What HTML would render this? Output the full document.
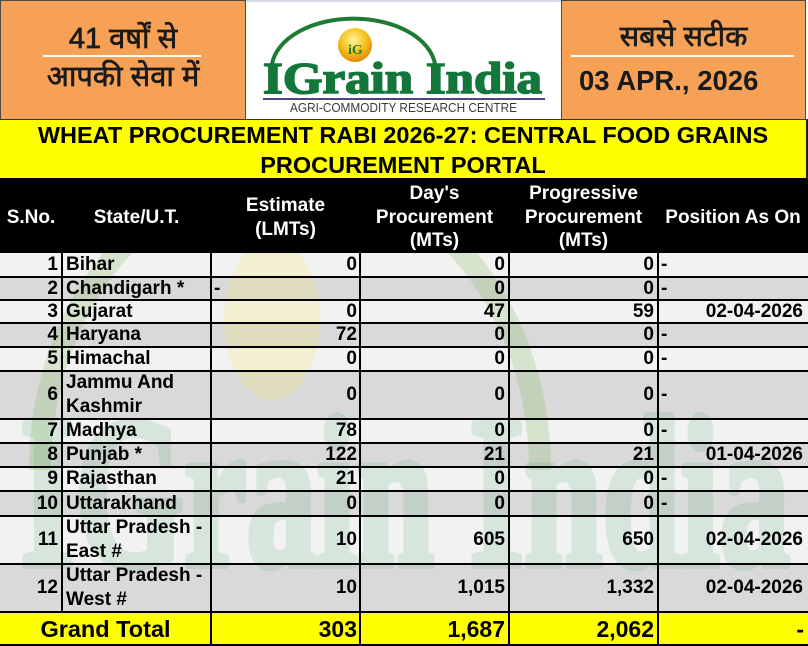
<!DOCTYPE html>
<html><head><meta charset="utf-8">
<style>
html,body{margin:0;padding:0;}
body{width:808px;height:646px;position:relative;overflow:hidden;background:#fff;font-family:"Liberation Sans",Arial,sans-serif;}
.a{position:absolute;}
.box{position:absolute;box-sizing:border-box;}
.hin{font-family:"Liberation Sans","Noto Sans Devanagari","Lohit Devanagari","FreeSans","Mangal",sans-serif;color:#1a1a1a;text-align:center;position:absolute;white-space:nowrap;-webkit-text-stroke:0.7px #1a1a1a;}
.c{position:absolute;display:flex;align-items:center;font-weight:bold;font-size:19px;line-height:24px;color:#000;white-space:nowrap;box-sizing:border-box;z-index:5;}
.R{justify-content:flex-end;text-align:right;}
.L{justify-content:flex-start;text-align:left;}
.C{justify-content:center;text-align:center;}
.h{color:#fff;line-height:23.5px;}
.hl{position:absolute;left:0;width:808px;height:2px;background:#000;z-index:4;}
.vl{position:absolute;width:2px;background:#000;z-index:4;}
.row{position:absolute;left:0;width:808px;}
</style></head><body>

<!-- top left orange box -->
<div class="box" style="left:0;top:0;width:246px;height:120px;background:#F6A156;border:1px solid #4a4a4a;"></div>
<div class="hin" style="left:0;width:246px;top:22px;font-size:29px;line-height:34px;">41 वर्षों से</div>
<div class="a" style="left:43px;top:55px;width:158px;height:2px;background:#fff;"></div>
<div class="hin" style="left:0;width:246px;top:60px;font-size:29px;line-height:34px;">आपकी सेवा में</div>

<!-- logo box -->
<div class="box" style="left:246px;top:0;width:315px;height:120px;background:#fff;border-top:2px solid #d4dbe3;"></div>
<svg class="a" style="left:0;top:0;" width="808" height="120" viewBox="0 0 808 120">
  <defs>
    <radialGradient id="ball" cx="45%" cy="35%" r="65%">
      <stop offset="0%" stop-color="#fff3a0"/>
      <stop offset="55%" stop-color="#f7c51c"/>
      <stop offset="100%" stop-color="#e08a0c"/>
    </radialGradient>
  </defs>
  <path d="M272,64 A82,51 0 0 1 435,64" fill="none" stroke="#1f7a34" stroke-width="4"/>
  <circle cx="355" cy="45" r="17" fill="url(#ball)"/>
  <text x="348" y="54" font-family="Liberation Serif,serif" font-weight="bold" font-size="14" fill="#1f7a34">iG</text>
  <text x="263" y="93" font-family="Liberation Serif,serif" font-weight="bold" font-size="44" fill="#13773a" stroke="#13773a" stroke-width="1.6" textLength="279" lengthAdjust="spacingAndGlyphs">IGrain India</text>
  <rect x="263" y="98" width="282" height="2" fill="#55408c"/>
  <text x="290" y="112" font-family="Liberation Sans,Arial,sans-serif" font-size="12.5" fill="#3a3a3a" textLength="227" lengthAdjust="spacingAndGlyphs">AGRI-COMMODITY RESEARCH CENTRE</text>
</svg>

<!-- top right orange box -->
<div class="box" style="left:561px;top:0;width:245px;height:120px;background:#F6A156;border:1px solid #4a4a4a;"></div>
<div class="hin" style="left:561px;width:245px;top:20px;font-size:29px;line-height:34px;">सबसे सटीक</div>
<div class="a" style="left:571px;top:55px;width:223px;height:2px;background:#fff;"></div>
<div class="a" style="left:579px;top:64px;font-weight:bold;font-size:27.5px;line-height:34px;color:#1a1a1a;white-space:nowrap;">03 APR., 2026</div>

<!-- yellow title band -->
<div class="box" style="left:0;top:119px;width:808px;height:60px;background:#FFFF00;border-top:1px solid #333;border-right:2px solid #222;"></div>
<div class="a" style="left:0;top:120px;width:806px;text-align:center;font-weight:bold;font-size:23.5px;line-height:30px;color:#000;">WHEAT PROCUREMENT RABI 2026-27: CENTRAL FOOD GRAINS<br>PROCUREMENT PORTAL</div>

<!-- header black -->
<div class="a" style="left:0;top:178px;width:808px;height:75px;background:#000;"></div>

<!-- row backgrounds -->
<div class="row" style="top:253px;height:24px;background:#F2F2F2;"></div>
<div class="row" style="top:277px;height:23px;background:#D9D9D9;"></div>
<div class="row" style="top:300px;height:23px;background:#F2F2F2;"></div>
<div class="row" style="top:323px;height:24px;background:#D9D9D9;"></div>
<div class="row" style="top:347px;height:24px;background:#F2F2F2;"></div>
<div class="row" style="top:371px;height:48px;background:#D9D9D9;"></div>
<div class="row" style="top:419px;height:24px;background:#F2F2F2;"></div>
<div class="row" style="top:443px;height:24px;background:#D9D9D9;"></div>
<div class="row" style="top:467px;height:24px;background:#F2F2F2;"></div>
<div class="row" style="top:491px;height:25px;background:#D9D9D9;"></div>
<div class="row" style="top:516px;height:48px;background:#F2F2F2;"></div>
<div class="row" style="top:564px;height:48px;background:#D9D9D9;"></div>
<div class="row" style="top:612px;height:34px;background:#FFFF00;"></div>

<!-- watermark -->
<svg class="a" style="left:0;top:253px;z-index:3;" width="808" height="359" viewBox="0 253 808 359">
  <path d="M40,470 A250,300 0 0 1 540,470" fill="none" stroke="#7fb65a" stroke-opacity="0.24" stroke-width="22"/>
  <ellipse cx="272" cy="320" rx="48" ry="80" fill="#f5e24a" fill-opacity="0.18"/>
  <g opacity="0.13">
    <text x="20" y="565" font-family="Liberation Serif,serif" font-weight="bold" font-size="215" fill="#2e9a55" stroke="#2e9a55" stroke-width="8" stroke-linejoin="round" textLength="770" lengthAdjust="spacingAndGlyphs">IGrain India</text>
  </g>
</svg>

<!-- grid lines -->
<div class="hl" style="top:276px;"></div>
<div class="hl" style="top:299px;"></div>
<div class="hl" style="top:322px;"></div>
<div class="hl" style="top:346px;"></div>
<div class="hl" style="top:370px;"></div>
<div class="hl" style="top:418px;"></div>
<div class="hl" style="top:442px;"></div>
<div class="hl" style="top:466px;"></div>
<div class="hl" style="top:490px;"></div>
<div class="hl" style="top:515px;"></div>
<div class="hl" style="top:563px;"></div>
<div class="hl" style="top:611px;"></div>
<div class="hl" style="top:644px;"></div>
<div class="vl" style="left:61px;top:253px;height:359px;"></div>
<div class="vl" style="left:210px;top:253px;height:393px;"></div>
<div class="vl" style="left:359px;top:253px;height:393px;"></div>
<div class="vl" style="left:508px;top:253px;height:393px;"></div>
<div class="vl" style="left:657px;top:253px;height:393px;"></div>

<!-- header text -->
<div class="c h C" style="left:0;width:62px;top:180px;height:75px;">S.No.</div>
<div class="c h C" style="left:62px;width:149px;top:180px;height:75px;">State/U.T.</div>
<div class="c h C" style="left:211px;width:149px;top:180px;height:75px;">Estimate<br>(LMTs)</div>
<div class="c h C" style="left:360px;width:149px;top:180px;height:75px;">Day's<br>Procurement<br>(MTs)</div>
<div class="c h C" style="left:509px;width:149px;top:180px;height:75px;">Progressive<br>Procurement<br>(MTs)</div>
<div class="c h C" style="left:658px;width:150px;top:180px;height:75px;">Position As On</div>

<!-- row 1 -->
<div class="c R" style="left:0;width:58px;top:253px;height:24px;">1</div>
<div class="c L" style="left:66px;width:145px;top:253px;height:24px;">Bihar</div>
<div class="c R" style="left:211px;width:146px;top:253px;height:24px;">0</div>
<div class="c R" style="left:360px;width:145px;top:253px;height:24px;">0</div>
<div class="c R" style="left:509px;width:145px;top:253px;height:24px;">0</div>
<div class="c L" style="left:661px;width:140px;top:253px;height:24px;">-</div>
<!-- row 2 -->
<div class="c R" style="left:0;width:58px;top:277px;height:23px;">2</div>
<div class="c L" style="left:66px;width:145px;top:277px;height:23px;">Chandigarh *</div>
<div class="c L" style="left:214px;width:140px;top:277px;height:23px;">-</div>
<div class="c R" style="left:360px;width:145px;top:277px;height:23px;">0</div>
<div class="c R" style="left:509px;width:145px;top:277px;height:23px;">0</div>
<div class="c L" style="left:661px;width:140px;top:277px;height:23px;">-</div>
<!-- row 3 -->
<div class="c R" style="left:0;width:58px;top:300px;height:23px;">3</div>
<div class="c L" style="left:66px;width:145px;top:300px;height:23px;">Gujarat</div>
<div class="c R" style="left:211px;width:146px;top:300px;height:23px;">0</div>
<div class="c R" style="left:360px;width:145px;top:300px;height:23px;">47</div>
<div class="c R" style="left:509px;width:145px;top:300px;height:23px;">59</div>
<div class="c R" style="left:658px;width:145px;top:300px;height:23px;">02-04-2026</div>
<!-- row 4 -->
<div class="c R" style="left:0;width:58px;top:323px;height:24px;">4</div>
<div class="c L" style="left:66px;width:145px;top:323px;height:24px;">Haryana</div>
<div class="c R" style="left:211px;width:146px;top:323px;height:24px;">72</div>
<div class="c R" style="left:360px;width:145px;top:323px;height:24px;">0</div>
<div class="c R" style="left:509px;width:145px;top:323px;height:24px;">0</div>
<div class="c L" style="left:661px;width:140px;top:323px;height:24px;">-</div>
<!-- row 5 -->
<div class="c R" style="left:0;width:58px;top:347px;height:24px;">5</div>
<div class="c L" style="left:66px;width:145px;top:347px;height:24px;">Himachal</div>
<div class="c R" style="left:211px;width:146px;top:347px;height:24px;">0</div>
<div class="c R" style="left:360px;width:145px;top:347px;height:24px;">0</div>
<div class="c R" style="left:509px;width:145px;top:347px;height:24px;">0</div>
<div class="c L" style="left:661px;width:140px;top:347px;height:24px;">-</div>
<!-- row 6 -->
<div class="c R" style="left:0;width:58px;top:371px;height:48px;">6</div>
<div class="c L" style="left:66px;width:145px;top:371px;height:48px;">Jammu And<br>Kashmir</div>
<div class="c R" style="left:211px;width:146px;top:371px;height:48px;">0</div>
<div class="c R" style="left:360px;width:145px;top:371px;height:48px;">0</div>
<div class="c R" style="left:509px;width:145px;top:371px;height:48px;">0</div>
<div class="c L" style="left:661px;width:140px;top:371px;height:48px;">-</div>
<!-- row 7 -->
<div class="c R" style="left:0;width:58px;top:419px;height:24px;">7</div>
<div class="c L" style="left:66px;width:145px;top:419px;height:24px;">Madhya</div>
<div class="c R" style="left:211px;width:146px;top:419px;height:24px;">78</div>
<div class="c R" style="left:360px;width:145px;top:419px;height:24px;">0</div>
<div class="c R" style="left:509px;width:145px;top:419px;height:24px;">0</div>
<div class="c L" style="left:661px;width:140px;top:419px;height:24px;">-</div>
<!-- row 8 -->
<div class="c R" style="left:0;width:58px;top:443px;height:24px;">8</div>
<div class="c L" style="left:66px;width:145px;top:443px;height:24px;">Punjab *</div>
<div class="c R" style="left:211px;width:146px;top:443px;height:24px;">122</div>
<div class="c R" style="left:360px;width:145px;top:443px;height:24px;">21</div>
<div class="c R" style="left:509px;width:145px;top:443px;height:24px;">21</div>
<div class="c R" style="left:658px;width:145px;top:443px;height:24px;">01-04-2026</div>
<!-- row 9 -->
<div class="c R" style="left:0;width:58px;top:467px;height:24px;">9</div>
<div class="c L" style="left:66px;width:145px;top:467px;height:24px;">Rajasthan</div>
<div class="c R" style="left:211px;width:146px;top:467px;height:24px;">21</div>
<div class="c R" style="left:360px;width:145px;top:467px;height:24px;">0</div>
<div class="c R" style="left:509px;width:145px;top:467px;height:24px;">0</div>
<div class="c L" style="left:661px;width:140px;top:467px;height:24px;">-</div>
<!-- row 10 -->
<div class="c R" style="left:0;width:58px;top:491px;height:25px;">10</div>
<div class="c L" style="left:66px;width:145px;top:491px;height:25px;">Uttarakhand</div>
<div class="c R" style="left:211px;width:146px;top:491px;height:25px;">0</div>
<div class="c R" style="left:360px;width:145px;top:491px;height:25px;">0</div>
<div class="c R" style="left:509px;width:145px;top:491px;height:25px;">0</div>
<div class="c L" style="left:661px;width:140px;top:491px;height:25px;">-</div>
<!-- row 11 -->
<div class="c R" style="left:0;width:58px;top:516px;height:48px;">11</div>
<div class="c L" style="left:66px;width:145px;top:516px;height:48px;">Uttar Pradesh -<br>East #</div>
<div class="c R" style="left:211px;width:146px;top:516px;height:48px;">10</div>
<div class="c R" style="left:360px;width:145px;top:516px;height:48px;">605</div>
<div class="c R" style="left:509px;width:145px;top:516px;height:48px;">650</div>
<div class="c R" style="left:658px;width:145px;top:516px;height:48px;">02-04-2026</div>
<!-- row 12 -->
<div class="c R" style="left:0;width:58px;top:564px;height:48px;">12</div>
<div class="c L" style="left:66px;width:145px;top:564px;height:48px;">Uttar Pradesh -<br>West #</div>
<div class="c R" style="left:211px;width:146px;top:564px;height:48px;">10</div>
<div class="c R" style="left:360px;width:145px;top:564px;height:48px;">1,015</div>
<div class="c R" style="left:509px;width:145px;top:564px;height:48px;">1,332</div>
<div class="c R" style="left:658px;width:145px;top:564px;height:48px;">02-04-2026</div>
<!-- grand total -->
<div class="c C" style="left:0;width:211px;top:612px;height:33px;font-size:23.5px;">Grand Total</div>
<div class="c R" style="left:211px;width:146px;top:612px;height:33px;font-size:23px;">303</div>
<div class="c R" style="left:360px;width:145px;top:612px;height:33px;font-size:23px;">1,687</div>
<div class="c R" style="left:509px;width:145px;top:612px;height:33px;font-size:23px;">2,062</div>
<div class="c R" style="left:658px;width:146px;top:612px;height:33px;font-size:23px;">-</div>

</body></html>
